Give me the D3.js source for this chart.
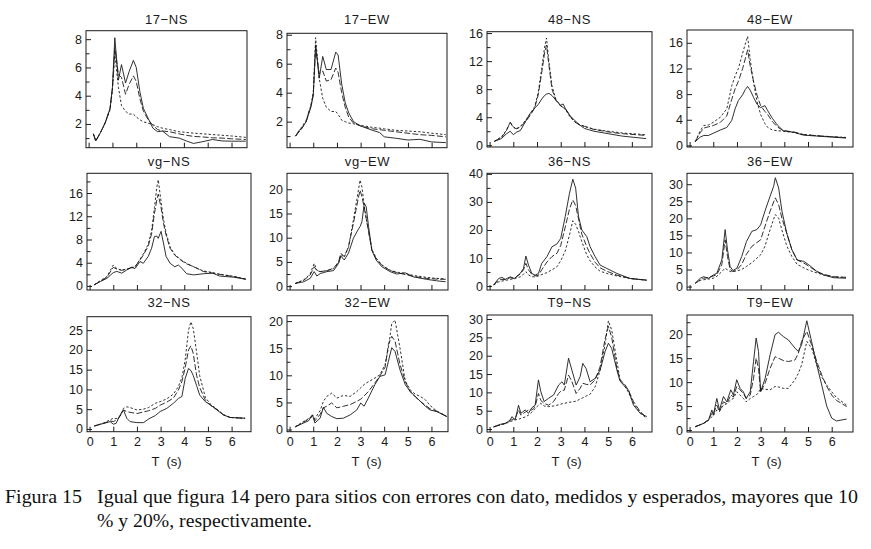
<!DOCTYPE html>
<html>
<head>
<meta charset="utf-8">
<script src="https://cdn.jsdelivr.net/npm/d3@7"></script>
<style>
  body { margin: 0; background: #fff; }
  text { font-family: "Liberation Sans", Arial, sans-serif; fill: #1a1a1a; }
  .caption text { font-family: "Liberation Serif", "Times New Roman", serif; fill: #111; }
</style>
</head>
<body>
<div id="chart"></div>
<script>
// period (s) and amplitude values
// solid = s..., long dash = d..., short dash = p...
const t17ns = [0.2,0.3,0.5,0.7,0.9,1.0,1.1,1.25,1.38,1.55,1.7,1.88,2.0,2.15,2.3,2.5,2.7,2.9,3.1,3.4,3.8,4.1,4.4,4.8,5.2,5.6,6.0,6.6]
const s17ns = [1.3,0.8,1.4,2.1,3.1,4.6,8.1,5.1,6.2,4.9,5.7,6.5,6.0,4.3,3.1,2.4,1.7,1.45,1.5,1.1,1.0,0.8,0.62,0.75,0.9,0.8,0.78,0.78]
const d17ns = [1.3,0.8,1.4,2.1,3.1,4.5,7.4,5.5,5.3,4.1,4.8,5.4,5.0,3.8,2.9,2.3,1.9,1.6,1.5,1.45,1.3,1.2,1.12,1.08,1.02,1.0,0.95,0.9]
const p17ns = [1.3,0.8,1.4,2.1,3.0,4.4,7.0,4.6,3.3,2.9,2.7,2.7,2.5,2.3,2.15,2.05,1.95,1.8,1.7,1.6,1.45,1.4,1.35,1.3,1.25,1.2,1.15,1.05]

const t17ew = [0.25,0.4,0.5,0.7,0.8,0.9,1.0,1.1,1.25,1.4,1.55,1.75,1.95,2.05,2.2,2.35,2.5,2.7,3.0,3.5,3.8,4.0,4.5,5.0,5.5,6.0,6.6]
const s17ew = [1.0,1.4,1.5,2.0,2.5,3.0,3.8,7.3,5.0,6.5,5.6,5.6,6.8,6.6,4.6,3.3,2.6,2.0,1.7,1.4,1.25,0.95,0.85,0.73,0.78,0.6,0.55]
const d17ew = [1.0,1.3,1.5,2.0,2.6,3.1,3.9,7.1,5.3,5.5,4.8,4.9,5.7,5.4,4.0,3.0,2.3,1.9,1.7,1.5,1.45,1.4,1.3,1.2,1.1,1.05,0.95]
const p17ew = [1.0,1.3,1.6,2.1,2.6,3.1,4.0,7.8,5.0,3.6,3.0,2.7,2.7,2.5,2.1,2.0,1.9,1.85,1.75,1.6,1.55,1.5,1.4,1.35,1.3,1.2,1.1]

const t48ns = [0.2,0.5,0.7,0.87,1.0,1.15,1.3,1.5,1.7,1.9,2.05,2.2,2.32,2.4,2.5,2.63,2.8,3.0,3.1,3.2,3.4,3.6,3.8,4.0,4.4,5.0,5.6,6.6]
const s48ns = [0.56,0.95,1.6,2.0,1.5,1.9,2.1,3.3,4.5,5.3,5.8,6.6,7.1,7.3,7.4,7.1,6.4,5.7,5.9,5.2,4.2,3.5,2.9,2.4,2.0,1.65,1.3,0.95]
const d48ns = [0.56,1.1,2.0,3.3,2.5,2.35,2.6,3.3,4.2,5.3,7.2,10.4,13.2,14.3,11.5,8.0,6.4,5.6,5.4,5.2,4.1,3.3,2.9,2.7,2.25,1.9,1.65,1.4]
const p48ns = [0.56,1.2,2.1,3.3,2.6,2.4,2.7,3.5,4.4,5.5,7.5,11.0,14.0,15.3,12.0,8.5,6.5,5.6,5.4,5.1,4.0,3.3,2.9,2.7,2.3,2.0,1.75,1.5]

const t48ew = [0.24,0.45,0.6,0.8,1.0,1.3,1.57,1.78,1.92,2.06,2.24,2.35,2.45,2.56,2.7,2.85,3.0,3.18,3.3,3.5,3.7,3.95,4.4,4.8,5.4,6.0,6.6]
const s48ew = [0.6,1.3,1.55,1.55,1.9,2.4,2.8,3.9,5.7,7.0,7.9,8.7,9.2,8.6,7.5,6.4,5.9,6.2,5.4,4.2,3.2,2.3,2.05,1.6,1.45,1.3,1.15]
const d48ew = [0.6,2.0,2.7,2.9,3.1,3.6,4.6,7.2,8.8,10.0,12.0,13.5,14.9,12.4,10.0,7.8,6.2,5.3,4.8,3.7,2.9,2.3,2.1,1.7,1.5,1.35,1.2]
const p48ew = [0.6,2.3,3.1,3.2,3.6,4.4,5.7,9.3,10.8,12.0,14.4,15.8,17.0,13.4,9.8,6.8,4.8,3.4,2.8,2.4,2.3,2.2,2.0,1.7,1.5,1.35,1.25]

const tvgns = [0.2,0.45,0.73,1.0,1.15,1.36,1.57,1.78,1.92,2.13,2.27,2.48,2.62,2.74,2.84,2.9,3.02,3.12,3.23,3.4,3.6,3.75,3.9,4.1,4.4,4.8,5.2,5.5,6.1,6.6]
const svgns = [0.2,0.75,1.3,2.3,2.5,2.2,2.75,3.2,3.0,4.2,3.9,5.1,6.5,8.5,8.6,8.2,9.4,7.4,5.1,3.9,3.3,3.6,3.05,2.1,1.9,2.1,2.2,1.7,1.5,1.15]
const dvgns = [0.2,0.8,1.5,3.2,2.9,2.7,2.9,3.2,3.3,4.5,5.3,6.9,9.0,12.5,14.8,15.8,13.5,10.8,8.8,6.5,5.3,4.8,4.3,3.8,3.3,2.5,2.2,2.0,1.6,1.15]
const pvgns = [0.2,0.9,1.6,3.6,3.0,2.7,2.9,3.1,3.3,4.6,5.5,7.2,9.5,13.5,17.0,18.3,14.5,11.5,9.2,6.7,5.4,4.9,4.4,3.9,3.3,2.6,2.3,2.0,1.65,1.2]

const tvgew = [0.24,0.6,0.87,1.04,1.15,1.3,1.58,1.86,2.07,2.17,2.31,2.49,2.7,2.89,2.98,3.06,3.16,3.24,3.34,3.48,3.66,3.9,4.25,4.53,4.89,5.24,5.8,6.22,6.6]
const svgew = [0.55,0.9,1.6,3.0,2.1,2.6,3.0,3.2,4.7,6.2,5.4,6.8,9.9,11.6,12.3,13.3,17.1,16.4,12.3,7.4,5.4,4.0,3.0,2.5,2.75,1.9,1.4,1.1,0.9]
const dvgew = [0.55,1.2,2.3,4.0,3.2,3.0,3.2,3.7,5.0,6.8,6.1,8.1,13.0,17.8,19.8,18.5,16.1,14.0,11.2,7.4,5.7,4.3,3.2,2.8,2.4,2.0,1.6,1.45,1.4]
const pvgew = [0.55,1.3,2.5,4.7,3.3,3.0,3.2,3.6,4.8,6.5,6.0,8.0,13.7,19.2,21.9,20.5,16.4,14.0,11.5,7.6,5.8,4.4,3.3,2.9,2.6,2.2,1.8,1.6,1.5]

const t36ns = [0.17,0.38,0.52,0.66,0.87,1.04,1.29,1.43,1.53,1.64,1.78,1.92,2.06,2.2,2.42,2.63,2.84,3.0,3.19,3.37,3.51,3.63,3.75,3.89,4.1,4.24,4.45,4.66,4.94,5.37,5.93,6.63]
const s36ns = [0.4,2.7,3.1,2.4,3.3,2.7,4.5,6.3,10.7,7.5,4.5,3.9,4.5,8.1,10.5,14.0,15.0,17.0,24.8,33.1,38.1,34.9,24.8,20.0,17.6,14.0,10.5,7.5,6.3,4.5,2.7,2.1]
const d36ns = [0.4,2.1,2.4,2.3,3.0,2.7,4.3,5.8,8.1,5.8,4.2,3.6,3.9,5.8,8.6,10.5,11.7,14.5,21.0,27.5,30.7,28.7,24.0,18.5,14.0,11.5,8.5,6.5,5.3,3.9,2.7,2.1]
const p36ns = [0.4,1.5,1.8,2.0,2.4,2.6,3.3,4.2,5.1,4.0,3.3,3.3,3.6,4.1,4.8,5.8,6.9,9.0,12.5,18.2,23.3,22.0,19.5,15.8,11.1,9.0,6.8,5.3,4.5,3.6,2.7,2.1]

const t36ew = [0.24,0.45,0.59,0.8,1.0,1.15,1.36,1.5,1.6,1.71,1.83,2.0,2.2,2.4,2.63,2.84,3.0,3.18,3.4,3.55,3.62,3.76,3.9,4.1,4.32,4.54,4.82,5.03,5.38,5.66,6.08,6.6]
const s36ew = [1.0,2.45,2.9,2.45,3.4,3.9,7.8,16.7,10.8,5.9,4.7,5.4,8.8,13.2,16.2,16.7,18.1,22.1,26.5,29.4,31.9,28.9,22.1,15.7,10.8,7.8,7.4,6.4,4.4,3.4,2.6,2.45]
const d36ew = [1.0,2.0,2.45,2.6,3.1,3.5,6.4,13.7,8.8,5.0,4.4,4.9,6.5,9.5,11.8,12.9,13.7,17.6,22.1,24.8,26.0,24.0,20.0,15.7,10.8,7.8,6.9,6.0,4.4,3.6,2.9,2.7]
const p36ew = [1.0,1.8,2.0,2.2,2.45,3.0,4.4,5.4,4.9,4.4,4.4,4.6,5.0,5.9,7.0,8.3,9.3,11.8,16.7,19.8,21.1,20.0,16.5,12.0,8.8,6.5,5.5,4.8,4.0,3.4,2.8,2.7]

const t32ns = [0.2,0.59,0.87,1.0,1.12,1.29,1.43,1.57,1.71,2.0,2.28,2.49,2.78,2.98,3.26,3.54,3.75,3.9,4.04,4.18,4.28,4.38,4.52,4.65,4.89,5.1,5.38,5.66,5.94,6.57]
const s32ns = [0.75,1.4,1.85,1.2,1.4,3.5,4.8,2.7,1.85,1.6,1.6,2.5,3.4,4.4,5.2,6.5,7.7,8.2,12.8,15.3,14.8,13.5,11.0,8.6,6.9,6.1,4.8,3.5,2.9,2.7]
const d32ns = [0.75,1.4,2.0,1.85,2.2,3.2,4.8,4.4,4.2,3.9,4.3,4.6,5.2,6.0,6.8,7.8,9.8,12.0,15.5,20.0,21.0,19.1,13.6,10.5,7.3,6.0,4.9,3.6,2.9,2.7]
const p32ns = [0.75,1.5,2.3,2.7,2.6,3.3,5.2,5.6,5.4,4.8,5.0,5.4,6.5,6.9,7.6,8.8,10.7,13.0,17.5,25.0,27.1,25.4,19.5,13.5,8.0,6.3,5.0,3.6,2.9,2.7]

const t32ew = [0.24,0.59,0.8,0.97,1.07,1.29,1.43,1.57,1.78,2.0,2.28,2.56,2.84,3.01,3.15,3.33,3.61,3.82,4.04,4.18,4.32,4.46,4.67,4.89,5.1,5.32,5.53,5.74,5.95,6.23,6.65]
const s32ew = [0.5,1.2,1.6,2.7,1.2,2.1,4.1,3.0,2.4,2.0,2.1,2.7,3.6,4.9,4.3,5.8,8.3,9.8,10.1,12.6,15.1,14.4,11.0,8.3,7.0,6.1,5.2,4.3,3.6,3.3,2.4]
const d32ew = [0.5,1.35,1.9,2.7,1.6,2.8,4.0,4.3,4.9,4.0,4.3,4.6,5.2,5.6,6.2,7.0,8.6,9.9,11.5,15.7,17.2,16.3,12.0,8.9,7.0,6.0,5.2,4.5,3.8,3.4,2.4]
const p32ew = [0.5,1.5,2.0,2.4,2.0,3.5,5.2,6.1,6.7,5.8,6.3,6.1,7.0,7.7,8.3,8.8,9.5,10.1,12.0,15.1,19.5,20.2,15.0,9.0,7.3,6.5,6.1,5.5,4.4,3.4,2.4]

const tt9ns = [0.17,0.45,0.66,0.87,0.94,1.08,1.22,1.32,1.5,1.64,1.78,1.92,2.06,2.16,2.3,2.49,2.7,2.91,3.05,3.15,3.33,3.47,3.65,3.82,3.93,4.07,4.24,4.45,4.66,4.87,5.01,5.15,5.37,5.5,5.72,5.86,6.07,6.35,6.63]
const st9ns = [0.6,1.3,1.5,2.5,3.4,2.5,6.5,4.3,5.2,4.3,5.8,6.5,13.4,10.2,7.5,8.4,9.3,12.0,12.9,12.0,19.3,16.1,12.0,14.3,17.9,16.5,12.9,13.8,16.1,21.1,23.4,22.0,16.1,13.1,11.5,10.6,6.5,4.3,3.4]
const dt9ns = [0.6,1.1,1.6,2.2,2.6,2.9,5.2,3.8,4.6,5.2,5.2,6.1,9.7,7.8,7.0,6.5,7.5,9.7,10.6,10.6,14.7,13.0,9.7,11.1,12.5,12.2,12.0,13.4,17.0,24.5,28.0,25.0,16.5,13.5,12.0,10.5,7.5,4.8,3.0]
const pt9ns = [0.6,1.1,1.5,2.0,2.2,2.5,2.7,2.9,3.3,3.8,4.6,5.6,6.5,7.0,6.3,6.1,6.3,6.6,6.9,7.0,7.3,7.4,7.6,8.2,8.5,9.0,9.5,11.5,16.0,23.0,29.5,27.0,18.5,13.5,11.5,10.0,7.0,4.5,2.8]

const tt9ew = [0.24,0.59,0.8,0.94,1.0,1.15,1.26,1.43,1.57,1.74,1.85,1.99,2.13,2.27,2.39,2.56,2.7,2.81,2.91,3.0,3.19,3.4,3.61,3.75,3.96,4.17,4.45,4.59,4.73,4.95,5.15,5.37,5.58,5.79,6.0,6.2,6.63]
const st9ew = [0.7,1.4,2.1,4.2,3.1,6.6,4.2,7.0,5.9,8.4,7.3,10.5,8.7,8.0,6.6,8.0,14.3,19.2,16.4,8.0,10.8,15.7,19.9,20.4,19.5,18.8,17.1,16.4,17.8,22.8,18.5,13.6,9.4,5.0,2.5,1.9,2.3]
const dt9ew = [0.7,1.4,2.2,3.5,3.3,5.2,3.8,5.9,5.5,7.3,6.9,9.1,8.4,7.6,6.6,7.3,10.8,15.0,12.9,8.0,9.8,12.9,15.3,15.0,14.5,14.3,14.6,16.0,18.5,20.6,17.8,14.3,11.5,9.1,7.3,6.2,4.9]
const pt9ew = [0.7,1.4,2.0,2.8,3.0,4.2,4.0,5.2,5.5,6.3,6.6,8.0,7.3,6.6,5.9,6.6,7.0,7.3,7.8,8.7,8.5,8.4,9.1,9.0,8.7,8.7,10.5,11.8,13.6,18.5,17.1,13.6,11.1,9.4,8.0,6.8,5.2]

const titles = ["17\u2212NS","17\u2212EW","48\u2212NS","48\u2212EW",
                "vg\u2212NS","vg\u2212EW","36\u2212NS","36\u2212EW",
                "32\u2212NS","32\u2212EW","T9\u2212NS","T9\u2212EW"]

const yMajor = [[2,4,6,8],[2,4,6,8],[0,4,8,12,16],[0,4,8,12,16],
                [0,4,8,12,16],[0,5,10,15,20],[0,10,20,30,40],[0,5,10,15,20,25,30],
                [0,5,10,15,20,25],[0,5,10,15,20],[0,5,10,15,20,25,30],[0,5,10,15,20]]
const yMinor = [[1,3,5,7],[1,3,5,7],[2,6,10,14],[2,6,10,14],
                [2,6,10,14,18],[2.5,7.5,12.5,17.5],[5,15,25,35],[],
                [],[2.5,7.5,12.5,17.5],[],[2.5,7.5,12.5,17.5,22.5]]
const yDomains = [[0.32,8.6],[0.2,8.1],[-0.25,16.2],[-0.25,18.0],
                  [-0.7,19.4],[-0.8,23.3],[-1.4,40.2],[-1.0,33.2],
                  [-0.7,28.4],[-0.4,21.0],[-0.8,31.1],[-0.4,24.0]]
const xMax = [6.65,6.65,6.85,6.9, 6.82,6.7,6.85,6.9, 6.82,6.7,6.85,6.9]
const xTicks = [0,1,2,3,4,5,6]

const series = [
  [t17ns, s17ns, d17ns, p17ns], [t17ew, s17ew, d17ew, p17ew],
  [t48ns, s48ns, d48ns, p48ns], [t48ew, s48ew, d48ew, p48ew],
  [tvgns, svgns, dvgns, pvgns], [tvgew, svgew, dvgew, pvgew],
  [t36ns, s36ns, d36ns, p36ns], [t36ew, s36ew, d36ew, p36ew],
  [t32ns, s32ns, d32ns, p32ns], [t32ew, s32ew, d32ew, p32ew],
  [tt9ns, st9ns, dt9ns, pt9ns], [tt9ew, st9ew, dt9ew, pt9ew]
]

// frame boxes [left, right, top, bottom] in px
const frames = [
  [86,247,30.7,147.7],[287,447,33.3,147.7],[487,652,31.7,147],[687,853,30,147],
  [87,251,173.3,290],[287,448,173.3,290],[487,652,173.3,290],[687,853,173.3,290],
  [87,251,316.7,431.7],[287,448,315.7,431.7],[487,652,315,432],[687,853,315,432]
]
const titleY = [24, 166, 307]
const dashes = [null, "6,2.2", "2.4,2"]

const svg = d3.select("#chart").append("svg")
    .attr("width", 871)
    .attr("height", 549)

series.forEach((s, i) => {
    const [l, r, tp, b] = frames[i]
    const row = Math.floor(i / 4)
    const x = d3.scaleLinear().domain([-0.11, xMax[i]]).range([l, r])
    const y = d3.scaleLinear().domain(yDomains[i]).range([b, tp])
    const g = svg.append("g")

    const xAxis = d3.axisBottom(x)
        .tickValues(xTicks)
        .tickSizeInner(-5)
        .tickSizeOuter(0)
        .tickPadding(5)
        .tickFormat(row === 2 ? d3.format("d") : "")

    g.append("g")
        .attr("transform", `translate(0,${b})`)
        .call(xAxis)
        .call(g => g.select(".domain").remove())
        .call(g => g.selectAll("text").attr("font-size", 12.5).attr("font-family", null))

    g.append("g")
        .attr("transform", `translate(${l},0)`)
        .call(d3.axisLeft(y).tickValues(yMajor[i]).tickSizeInner(-5).tickSizeOuter(0).tickPadding(4))
        .call(g => g.select(".domain").remove())
        .call(g => g.selectAll("text").attr("font-size", 12.5).attr("font-family", null))

    g.append("g")
        .attr("transform", `translate(${l},0)`)
        .call(d3.axisLeft(y).tickValues(yMinor[i]).tickSizeInner(-3.5).tickSizeOuter(0).tickFormat(""))
        .call(g => g.select(".domain").remove())

    g.selectAll(".tick line").attr("stroke", "#1a1a1a")

    const line = d3.line()
        .x((d, j) => x(s[0][j]))
        .y(d => y(d))

    g.append("g")
        .attr("fill", "none")
        .attr("stroke", "#1a1a1a")
        .attr("stroke-width", 0.9)
        .attr("stroke-linejoin", "round")
        .selectAll("path")
        .data(s.slice(1))
        .join("path")
        .attr("stroke-dasharray", (d, k) => dashes[k])
        .attr("d", line)

    g.append("rect")
        .attr("x", l).attr("y", tp)
        .attr("width", r - l).attr("height", b - tp)
        .attr("fill", "none")
        .attr("stroke", "#1a1a1a")
        .attr("stroke-width", 1)

    svg.append("text")
        .attr("x", (l + r) / 2)
        .attr("y", titleY[row])
        .attr("text-anchor", "middle")
        .attr("font-size", 13)
        .attr("letter-spacing", 0.6)
        .text(titles[i])

    if (row === 2) {
        svg.append("text")
            .attr("x", x(3.25))
            .attr("y", 466)
            .attr("text-anchor", "middle")
            .attr("font-size", 13)
            .attr("xml:space", "preserve")
            .text("T  (s)")
    }
})

// figure caption
const cap = svg.append("g").attr("class", "caption").attr("font-size", 18.5)
cap.append("text").attr("x", 5).attr("y", 503)
    .attr("textLength", 77).attr("lengthAdjust", "spacingAndGlyphs")
    .text("Figura 15")
cap.append("text").attr("x", 97).attr("y", 503)
    .attr("textLength", 761).attr("lengthAdjust", "spacingAndGlyphs")
    .text("Igual que figura 14 pero para sitios con errores con dato, medidos y esperados, mayores que 10")
cap.append("text").attr("x", 97).attr("y", 527)
    .attr("textLength", 215).attr("lengthAdjust", "spacingAndGlyphs")
    .text("% y 20%, respectivamente.")
</script>
</body>
</html>
